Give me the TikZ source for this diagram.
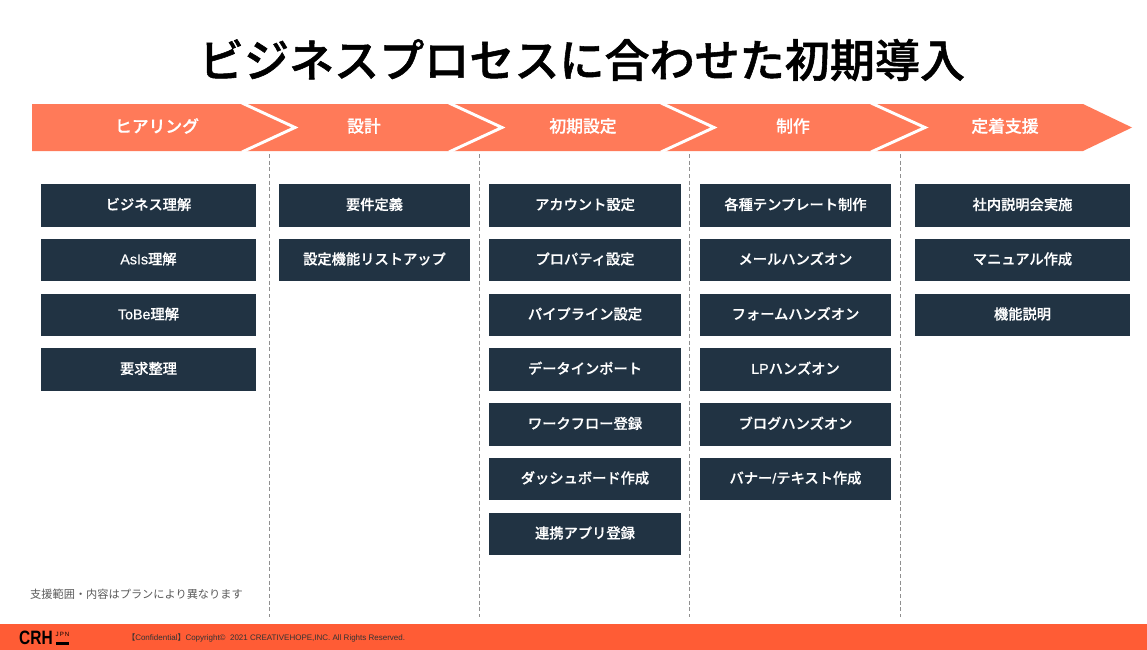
\documentclass[tikz,border=0pt]{standalone}
\usepackage{fontspec}
\setmainfont{Noto Sans CJK JP}
\newfontfamily\latinfont{Liberation Sans}
\newfontfamily\latinmedium[FakeBold=0.5]{Liberation Sans}
\newfontfamily\mediumfont[FakeBold=0.5]{Noto Sans CJK JP Medium}
\newfontfamily\headfont[FakeBold=1.2]{Noto Sans CJK JP Medium}
\usepackage{xcolor}
\usetikzlibrary{arrows.meta,positioning}
\definecolor{flowcolor}{HTML}{FF7A59}
\definecolor{footcolor}{HTML}{FF5C35}
\definecolor{boxcolor}{HTML}{213343}
\definecolor{rulecolor}{HTML}{909090}

\begin{document}
\begin{tikzpicture}[x=0.75pt,y=-0.75pt,
phase/.style={text=white,font=\fontsize{12.6}{14}\mediumfont},
task/.style={fill=boxcolor,text=white,inner sep=0pt,minimum height=31.8pt,text height=8pt,text depth=1.5pt,font=\fontsize{10.7}{13}\mediumfont},
widetask/.style={task,minimum width=161.25pt},
thintask/.style={task,minimum width=143.6pt},
divider/.style={rulecolor,line width=1pt,dash pattern=on 3pt off 2pt},
chevron/.style={white,line width=2.2pt,miter limit=10}]
\useasboundingbox (0,0) rectangle (1147,650);

\node[font=\fontsize{33.8}{40}\headfont] (title) at (582,60) {ビジネスプロセスに合わせた初期導入};

% process arrow
\fill[flowcolor] (32,104) -- (1083,104) -- (1132,127.5) -- (1083,151) -- (32,151) -- cycle;
\draw[chevron] (242,103) -- (295,127.5) -- (242,152);
\draw[chevron] (449,103) -- (502,127.5) -- (449,152);
\draw[chevron] (661,103) -- (714,127.5) -- (661,152);
\draw[chevron] (871,103) -- (925,127.5) -- (871,152);

\node[phase] (hearing) at (157,126) {ヒアリング};
\node[phase] (design) at (364,126) {設計};
\node[phase] (setup) at (583,126) {初期設定};
\node[phase] (build) at (793,126) {制作};
\node[phase] (support) at (1005,126) {定着支援};

% column dividers
\draw[divider] (269.5,154) -- (269.5,617);
\draw[divider] (479.5,154) -- (479.5,617);
\draw[divider] (689.5,154) -- (689.5,617);
\draw[divider] (900.5,154) -- (900.5,617);

% first column
\node[widetask] (hearing1) at (148.5,205.5) {ビジネス理解};
\node[widetask] (hearing2) at (148.5,260) {{\latinmedium AsIs}理解};
\node[widetask] (hearing3) at (148.5,315) {{\latinmedium ToBe}理解};
\node[widetask] (hearing4) at (148.5,369.5) {要求整理};

% second column
\node[thintask] (design1) at (374.5,205.5) {要件定義};
\node[thintask] (design2) at (374.5,260) {設定機能リストアップ};

% third column
\node[thintask] (setup1) at (585,205.5) {アカウント設定};
\node[thintask] (setup2) at (585,260) {プロパティ設定};
\node[thintask] (setup3) at (585,315) {パイプライン設定};
\node[thintask] (setup4) at (585,369.5) {データインポート};
\node[thintask] (setup5) at (585,424.5) {ワークフロー登録};
\node[thintask] (setup6) at (585,479) {ダッシュボード作成};
\node[thintask] (setup7) at (585,534) {連携アプリ登録};

% fourth column
\node[thintask] (build1) at (795.5,205.5) {各種テンプレート制作};
\node[thintask] (build2) at (795.5,260) {メールハンズオン};
\node[thintask] (build3) at (795.5,315) {フォームハンズオン};
\node[thintask] (build4) at (795.5,369.5) {{\latinmedium LP}ハンズオン};
\node[thintask] (build5) at (795.5,424.5) {ブログハンズオン};
\node[thintask] (build6) at (795.5,479) {バナー{\latinmedium /}テキスト作成};

% fifth column
\node[widetask] (support1) at (1022.5,205.5) {社内説明会実施};
\node[widetask] (support2) at (1022.5,260) {マニュアル作成};
\node[widetask] (support3) at (1022.5,315) {機能説明};

\node[text=black!65,font=\fontsize{8.4}{10}\selectfont] (note) at (136.5,594) {支援範囲・内容はプランにより異なります};

% footer band
\fill[footcolor] (0,624) rectangle (1147,650);
\node[font=\fontsize{14.5}{14}\latinfont\bfseries,inner sep=0pt,xscale=0.8] (logo) at (36,637.5) {CRH};
\node[font=\fontsize{4.6}{5}\latinfont,inner sep=0pt] (logojpn) at (62.5,634) {J\,P\,N};
\fill[black] (56,642) rectangle (69,645);
\node[font=\fontsize{6}{7}\latinfont,text=black!80,inner sep=0pt,anchor=west] (copyright) at (127,637.5) {{\fontspec{Noto Sans CJK JP}【}Confidential{\fontspec{Noto Sans CJK JP}】}Copyright©\ \ 2021 CREATIVEHOPE,INC. All Rights Reserved.};
\end{tikzpicture}
\end{document}
